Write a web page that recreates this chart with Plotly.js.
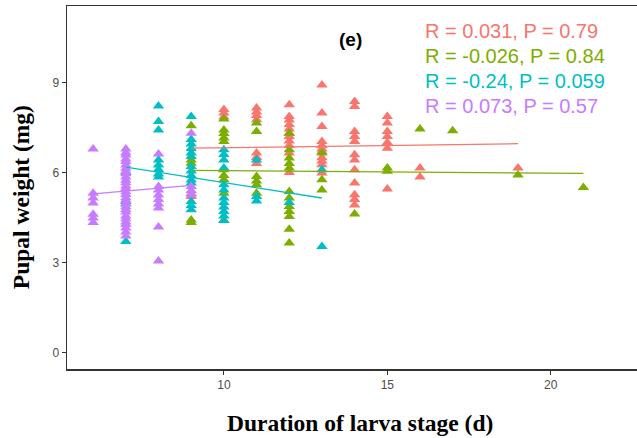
<!DOCTYPE html>
<html>
<head>
<meta charset="utf-8">
<script src="https://cdn.plot.ly/plotly-3.0.1.min.js"></script>
<style>
html,body{margin:0;padding:0;overflow:hidden;background:#fff;}
#chart{width:637px;height:438px;}
</style>
</head>
<body>
<div id="chart"></div>
<script>
// ---- Data ----
const groupColors = ["#F8766D", "#7CAE00", "#00BFC4", "#C77CFF"];

const redX = [9,9, 10,10,10, 11,11,11,11,11,11,11, 12,12,12,12,12,12,12,12,12,12,12,
  13,13,13,13,13,13,13,13,13,13,13, 14,14,14,14,14,14,14,14,14,14,14,14,
  15,15,15,15,15,15,15, 16,16, 19];
const redY = [5.30,5.20, 8.10,7.98,7.85, 8.15,8.02,7.90,7.76,6.65,6.50,6.30,
  8.26,7.87,7.75,7.60,7.45,7.31,7.20,7.05,6.90,6.65,6.00,
  8.92,7.98,7.53,7.03,6.90,6.78,6.70,6.49,6.38,6.26,5.98,
  8.37,8.20,7.37,7.20,7.03,6.59,6.42,6.09,5.65,5.26,5.10,4.92,
  7.87,7.65,7.37,7.20,7.00,6.81,5.45, 6.15,5.85, 6.15];

const greenX = [9,9,9,9,9, 10,10,10,10,10,10,10,10,10,10, 11,11,11,11,11,11,
  12,12,12,12,12,12,12,12,12,12,12,12, 13,13,13, 14, 15,15, 16, 17, 19, 21];
const greenY = [7.56,6.42,6.31,4.42,4.33, 7.78,7.42,7.30,7.15,7.03,6.09,5.90,5.76,5.31,4.40,
  7.65,7.37,5.87,5.72,5.59,5.31,
  7.31,6.76,6.48,6.30,6.15,5.37,5.15,4.87,4.70,4.53,4.11,3.65,
  6.65,5.76,5.42, 4.62, 6.15,6.04, 7.45, 7.39, 5.92, 5.50];

const cyanX = [7,7,7,7, 8,8,8,8,8,8,8,8, 9,9,9,9,9,9,9,9,9,9,9,9,9,9,
  10,10,10,10,10,10,10,10,10,10,10,10, 11,11,11, 12, 13,13];
const cyanY = [6.00,5.03,4.95,3.70, 8.22,7.70,7.42,6.42,6.25,6.10,5.95,5.85,
  7.87,7.10,6.95,6.80,6.65,6.53,6.20,6.05,5.90,5.75,5.65,5.03,4.90,4.76,
  6.76,6.60,6.42,6.15,5.59,5.42,5.15,5.00,4.85,4.70,4.55,4.40,
  6.42,5.20,5.05, 5.00, 6.09,3.53];

const purpleX = [6,6,6,6,6,6,6,
  7,7,7,7,7,7,7,7,7,7,7,7,7,7,7,7,7,7,7,7,7,7,7,7,7,7,7,7,7,
  8,8,8,8,8,8,8,8,8, 9,9,9,9];
const purpleY = [6.78,5.31,5.15,4.98,4.61,4.48,4.33,
  6.78,6.66,6.58,6.45,6.37,6.25,6.14,6.05,5.96,5.85,5.74,5.66,5.55,5.47,5.36,5.27,5.16,5.08,4.97,4.86,4.77,4.68,4.55,4.46,4.35,4.27,4.15,4.02,3.88,
  6.62,5.53,5.42,5.25,5.10,4.95,4.82,4.18,3.05, 7.31,5.53,5.40,5.26];

// fitted regression line end points
const redFitX = [9, 19],    redFitY = [6.81, 6.96];
const greenFitX = [9, 21],  greenFitY = [6.07, 5.97];
const cyanFitX = [7, 13],   cyanFitY = [6.18, 5.15];
const purpleFitX = [6, 9],  purpleFitY = [5.29, 5.57];

const statLabels = ["R = 0.031, P = 0.79", "R = -0.026, P = 0.84", "R = -0.24, P = 0.059", "R = 0.073, P = 0.57"];
const statLabelY = [10.72, 9.89, 9.06, 8.22];
const statLabelX = 16.09;
const panelLabel = "(e)";
const xTitle = "Duration of larva stage (d)";
const yTitle = "Pupal weight (mg)";
const xTicks = [10, 15, 20];
const yTicks = [0, 3, 6, 9];

// ---- Traces ----
const pts = [[redX, redY], [greenX, greenY], [cyanX, cyanY], [purpleX, purpleY]];
const fits = [[redFitX, redFitY], [greenFitX, greenFitY], [cyanFitX, cyanFitY], [purpleFitX, purpleFitY]];
const traces = [];
pts.forEach((p, i) => {
  traces.push({x: p[0], y: p[1], type: 'scatter', mode: 'markers', hoverinfo: 'skip',
    marker: {symbol: 'triangle-up', size: 10, color: groupColors[i], line: {width: 0}}});
});
fits.forEach((f, i) => {
  traces.push({x: f[0], y: f[1], type: 'scatter', mode: 'lines', hoverinfo: 'skip',
    line: {color: groupColors[i], width: 1.3}});
});

const annotations = statLabels.map((t, i) => ({
  x: statLabelX, y: statLabelY[i], xref: 'x', yref: 'y', text: t, showarrow: false,
  xanchor: 'left', yanchor: 'middle',
  font: {family: 'Liberation Sans, Arial, sans-serif', size: 20, color: groupColors[i]}
}));
annotations.push({x: 13.86, y: 10.42, xref: 'x', yref: 'y', text: '<b>' + panelLabel + '</b>',
  showarrow: false, xanchor: 'center', yanchor: 'middle',
  font: {family: 'Liberation Sans, Arial, sans-serif', size: 19, color: '#000'}});
annotations.push({x: 0.514, y: -0.148, xref: 'paper', yref: 'paper', text: '<b>' + xTitle + '</b>',
  showarrow: false, xanchor: 'center', yanchor: 'middle',
  font: {family: 'Liberation Serif, Times New Roman, serif', size: 23.5, color: '#000'}});
annotations.push({x: -0.081, y: 0.473, xref: 'paper', yref: 'paper', text: '<b>' + yTitle + '</b>',
  showarrow: false, xanchor: 'center', yanchor: 'middle', textangle: -90,
  font: {family: 'Liberation Serif, Times New Roman, serif', size: 23.5, color: '#000'}});

const axisCommon = {
  showgrid: false, zeroline: false, showline: true, linecolor: '#333', linewidth: 1.5,
  ticks: 'outside', ticklen: 4, tickwidth: 1, tickcolor: '#333',
  tickfont: {family: 'Liberation Sans, Arial, sans-serif', size: 12, color: '#4D4D4D'}
};

const layout = {
  width: 637, height: 438,
  margin: {l: 67, r: 0, t: 6, b: 69, pad: 0},
  paper_bgcolor: '#fff', plot_bgcolor: '#fff',
  showlegend: false,
  xaxis: Object.assign({}, axisCommon, {range: [5.2, 22.64], tickmode: 'array', tickvals: xTicks,
    ticktext: xTicks.map(String), mirror: true}),
  yaxis: Object.assign({}, axisCommon, {range: [-0.55, 11.55], tickmode: 'array', tickvals: yTicks,
    ticktext: yTicks.map(String)}),
  annotations: annotations
};

Plotly.newPlot('chart', traces, layout, {displayModeBar: false, staticPlot: true});
</script>
</body>
</html>
